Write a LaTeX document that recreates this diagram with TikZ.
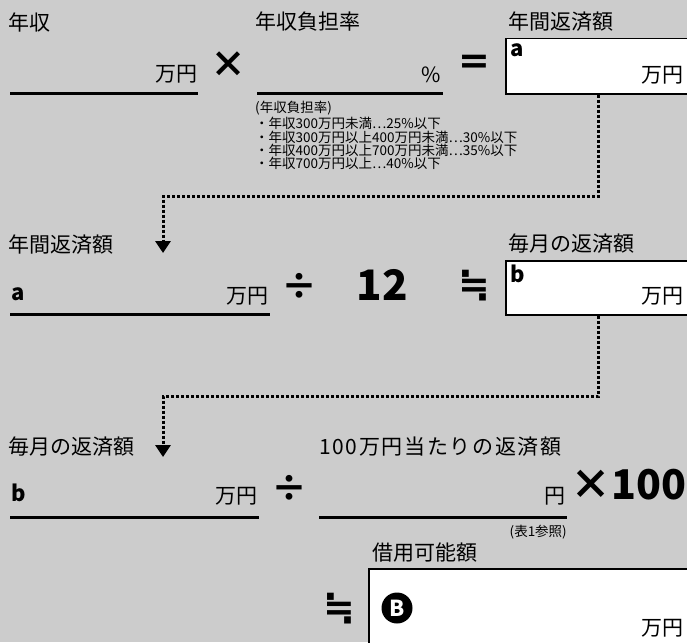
\documentclass[tikz,border=0pt]{standalone}
\usepackage{fontspec}
\setmainfont{Noto Sans CJK JP}
\newfontfamily\dvb{DejaVu Sans Bold}
\usetikzlibrary{arrows.meta}
\definecolor{bg}{HTML}{CCCCCC}
\begin{document}
\begin{tikzpicture}[x=1pt,y=-1pt,
  lab/.style={anchor=west,inner sep=0,font=\fontsize{21}{21}\selectfont},
  unit/.style={anchor=east,inner sep=0,font=\fontsize{21}{21}\selectfont},
  small/.style={anchor=west,inner sep=0,font=\fontsize{13.5}{13.5}\selectfont},
  op/.style={inner sep=0,font=\bfseries\fontsize{36}{36}\selectfont},
  dop/.style={inner sep=0,font=\dvb\fontsize{38}{38}\selectfont},
  big/.style={inner sep=0,font=\bfseries\fontsize{42}{42}\selectfont},
  letter/.style={anchor=west,inner sep=0,font=\bfseries\fontsize{22}{22}\selectfont},
  blank/.style={line width=3pt},
  box/.style={draw=black,fill=white,line width=1.5pt,anchor=north west,inner sep=0},
  dotline/.style={line width=3pt,dash pattern=on 3pt off 2pt,-{Triangle[width=15pt,length=12pt]}},
]
\fill[bg] (0,0) rectangle (687,642);
\useasboundingbox (0,0) rectangle (687,642);
% row 1
\node[lab] (l1) at (8,22) {年収};
\draw[blank] (10,93) -- (198,93);
\node[unit] (u1) at (198,74) {万円};
\node[op] (times1) at (228,65) {×};
\node[lab] (l2) at (255,22) {年収負担率};
\draw[blank] (257,93) -- (443,93);
\node[unit] (pct) at (441,75) {\%};
\node[dop] (eq) at (474,64) {=};
\node[lab] (l3) at (508,22) {年間返済額};
\node[box,minimum width=200,minimum height=55] (b1) at (505,38) {};
\node[letter] (a1) at (510,50) {a};
\node[unit] (u2) at (684,75) {万円};
\node[small] (n0) at (255,108) {(年収負担率)};
\node[small] (n1) at (255,123) {・年収300万円未満…25\%以下};
\node[small] (n2) at (255,137) {・年収300万円以上400万円未満…30\%以下};
\node[small] (n3) at (255,150) {・年収400万円以上700万円未満…35\%以下};
\node[small] (n4) at (255,163) {・年収700万円以上…40\%以下};
% connector 1
\coordinate (k1) at (163,196);
\coordinate (t1) at (163,253);
\draw[dotline] ([xshift=93pt]b1.south west) |- (k1) -- (t1);
% row 2
\node[lab] (l4) at (8,245) {年間返済額};
\node[letter] (a2) at (11,294) {a};
\draw[blank] (10,314) -- (270,314);
\node[unit] (u3) at (269,296) {万円};
\node[op] (div1) at (299,286) {÷};
\node[big] (twelve) at (382,285) {12};
\node[dop] (approx1) at (474,286) {≒};
\node[lab] (l5) at (508,244) {毎月の返済額};
\node[box,minimum width=200,minimum height=54] (b2) at (505,260) {};
\node[letter] (bb) at (510,274) {b};
\node[unit] (u4) at (684,296) {万円};
% connector 2
\coordinate (k2) at (163,396);
\coordinate (t2) at (163,457);
\draw[dotline] ([xshift=93pt]b2.south west) |- (k2) -- (t2);
% row 3
\node[lab] (l6) at (8,447) {毎月の返済額};
\node[letter] (b3) at (11,493) {b};
\draw[blank] (10,517) -- (259,517);
\node[unit] (u5) at (258,496) {万円};
\node[op] (div2) at (289,488) {÷};
\node[lab,font=\fontsize{21}{21}\selectfont\addfontfeature{LetterSpace=8}] (l7) at (319,447) {100万円当たりの返済額};
\draw[blank] (319,517) -- (567,517);
\node[unit] (u6) at (566,496) {円};
\node[big,anchor=east,font=\bfseries\fontsize{41}{41}\selectfont] (x100) at (687,485) {×100};
\node[small,anchor=east] (ref) at (567,532) {(表1参照)};
% row 4
\node[lab] (l8) at (372,553) {借用可能額};
\node[box,minimum width=340,minimum height=100] (b3box) at (368,568) {};
\node[dop] (approx2) at (339,609) {≒};
\fill[black] (397,608) circle[radius=15.5];
\node[text=white,inner sep=0,font=\bfseries\fontsize{22}{22}\selectfont] (B) at (397,608) {B};
\node[unit] (u7) at (684,628) {万円};
\end{tikzpicture}
\end{document}
